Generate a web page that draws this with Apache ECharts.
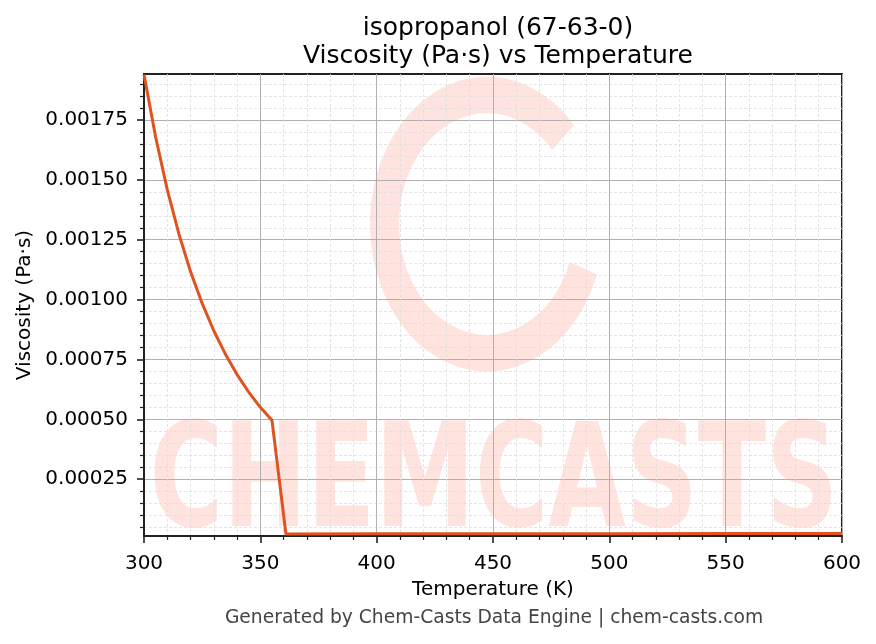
<!DOCTYPE html>
<html>
<head>
<meta charset="utf-8">
<script src="https://cdn.jsdelivr.net/npm/echarts@6/dist/echarts.min.js"></script>
<style>html,body{margin:0;padding:0;background:#fff}#c{width:876px;height:644px}</style>
</head>
<body>
<div id="c"></div>
<script>
// ---- data ----
const temperatures = [300, 305, 310, 315, 320, 325, 330, 335, 340, 345, 350, 355, 361, 400, 450, 500, 550, 600];
const viscosity = [0.001940, 0.001679, 0.001459, 0.001274, 0.001117, 0.000984, 0.000870, 0.000772,
                   0.000687, 0.000614, 0.000550, 0.000496, 0.0000215, 0.0000218, 0.0000222, 0.0000226, 0.000023, 0.0000234];
const yMajorTicks = [0.00025, 0.00050, 0.00075, 0.00100, 0.00125, 0.00150, 0.00175];
const yMinorTicks = [0.00005, 0.00010, 0.00015, 0.00020, 0.00030, 0.00035, 0.00040, 0.00045,
                     0.00055, 0.00060, 0.00065, 0.00070, 0.00080, 0.00085, 0.00090, 0.00095,
                     0.00105, 0.00110, 0.00115, 0.00120, 0.00130, 0.00135, 0.00140, 0.00145,
                     0.00155, 0.00160, 0.00165, 0.00170, 0.00180, 0.00185, 0.00190];
const yMin = 0.0000129, yMax = 0.001942;
const xMin = 300, xMax = 600, xStep = 50;
const titleLines = ['isopropanol (67-63-0)', 'Viscosity (Pa·s) vs Temperature'];
const xName = 'Temperature (K)';
const yName = 'Viscosity (Pa·s)';
const footer = 'Generated by Chem-Casts Data Engine | chem-casts.com';

const FONT = "'DejaVu Sans', sans-serif";
const chart = echarts.init(document.getElementById('c'), null, {renderer: 'canvas'});
const seriesData = temperatures.map((t, i) => [t, viscosity[i]]);

chart.setOption({
  backgroundColor: '#ffffff',
  animation: false,
  title: {
    text: titleLines.join('\n'),
    left: 493, top: 9, textAlign: 'center',
    textStyle: {fontFamily: FONT, fontSize: 25, fontWeight: 'normal', color: '#000', lineHeight: 28}
  },
  grid: {left: 144, right: 34, top: 74, bottom: 108, show: true, borderColor: '#222', borderWidth: 2, backgroundColor: 'transparent'},
  graphic: [
    {type: 'sector', z: -10, x: 487, y: 224, scaleY: 1.26,
     shape: {cx: 0, cy: 0, r: 117, r0: 88, startAngle: 20 * Math.PI / 180, endAngle: 318 * Math.PI / 180, clockwise: true},
     style: {fill: '#fee3df'}},
    {type: 'text', z: -10, x: 494, y: 488, scaleX: 0.69,
     style: {text: 'CHEMCASTS', x: 0, y: 0, align: 'center', verticalAlign: 'middle',
             font: "bold 145px 'DejaVu Sans'", fill: '#fee3df'}},
    {type: 'text', x: 494, y: 618,
     style: {text: footer, x: 0, y: 0, align: 'center', verticalAlign: 'middle',
             font: "18.7px 'DejaVu Sans'", fill: '#444'}}
  ],
  xAxis: {
    type: 'value', min: xMin, max: xMax, interval: xStep,
    name: xName, nameLocation: 'middle', nameGap: 44,
    nameTextStyle: {fontFamily: FONT, fontSize: 20, color: '#000'},
    axisLine: {show: true, lineStyle: {color: '#222', width: 2}},
    axisTick: {show: true, length: 7, lineStyle: {color: '#222', width: 1.6}},
    axisLabel: {fontFamily: FONT, fontSize: 20, color: '#000', margin: 18},
    splitLine: {show: true, lineStyle: {color: '#b0b0b0', width: 1}},
    minorTick: {show: true, splitNumber: 5, length: 4, lineStyle: {color: '#222', width: 1.2}},
    minorSplitLine: {show: true, lineStyle: {color: '#dddddd', width: 0.8, type: [3, 2]}}
  },
  yAxis: [
    {
      type: 'value', min: yMin, max: yMax, position: 'left',
      axisLine: {show: false},
      axisTick: {show: true, length: 4, customValues: yMinorTicks, lineStyle: {color: '#222', width: 1.2}},
      axisLabel: {show: false},
      splitLine: {show: true, lineStyle: {color: '#dddddd', width: 0.8, type: [3, 2]}}
    },
    {
      type: 'value', min: yMin, max: yMax, position: 'left',
      name: yName, nameLocation: 'middle', nameGap: 108,
      nameTextStyle: {fontFamily: FONT, fontSize: 20, color: '#000'},
      axisLine: {show: true, lineStyle: {color: '#222', width: 2}},
      axisTick: {show: true, length: 7, customValues: yMajorTicks, lineStyle: {color: '#222', width: 1.6}},
      axisLabel: {show: true, customValues: yMajorTicks, fontFamily: FONT, fontSize: 20, color: '#000', margin: 16,
                  formatter: v => v.toFixed(5)},
      splitLine: {show: true, lineStyle: {color: '#b0b0b0', width: 1}}
    }
  ],
  series: [{
    type: 'line', xAxisIndex: 0, yAxisIndex: 1, data: seriesData,
    showSymbol: false, symbol: 'none', clip: true, z: 5,
    lineStyle: {color: '#E0521F', width: 3}
  }]
});
</script>
</body>
</html>
